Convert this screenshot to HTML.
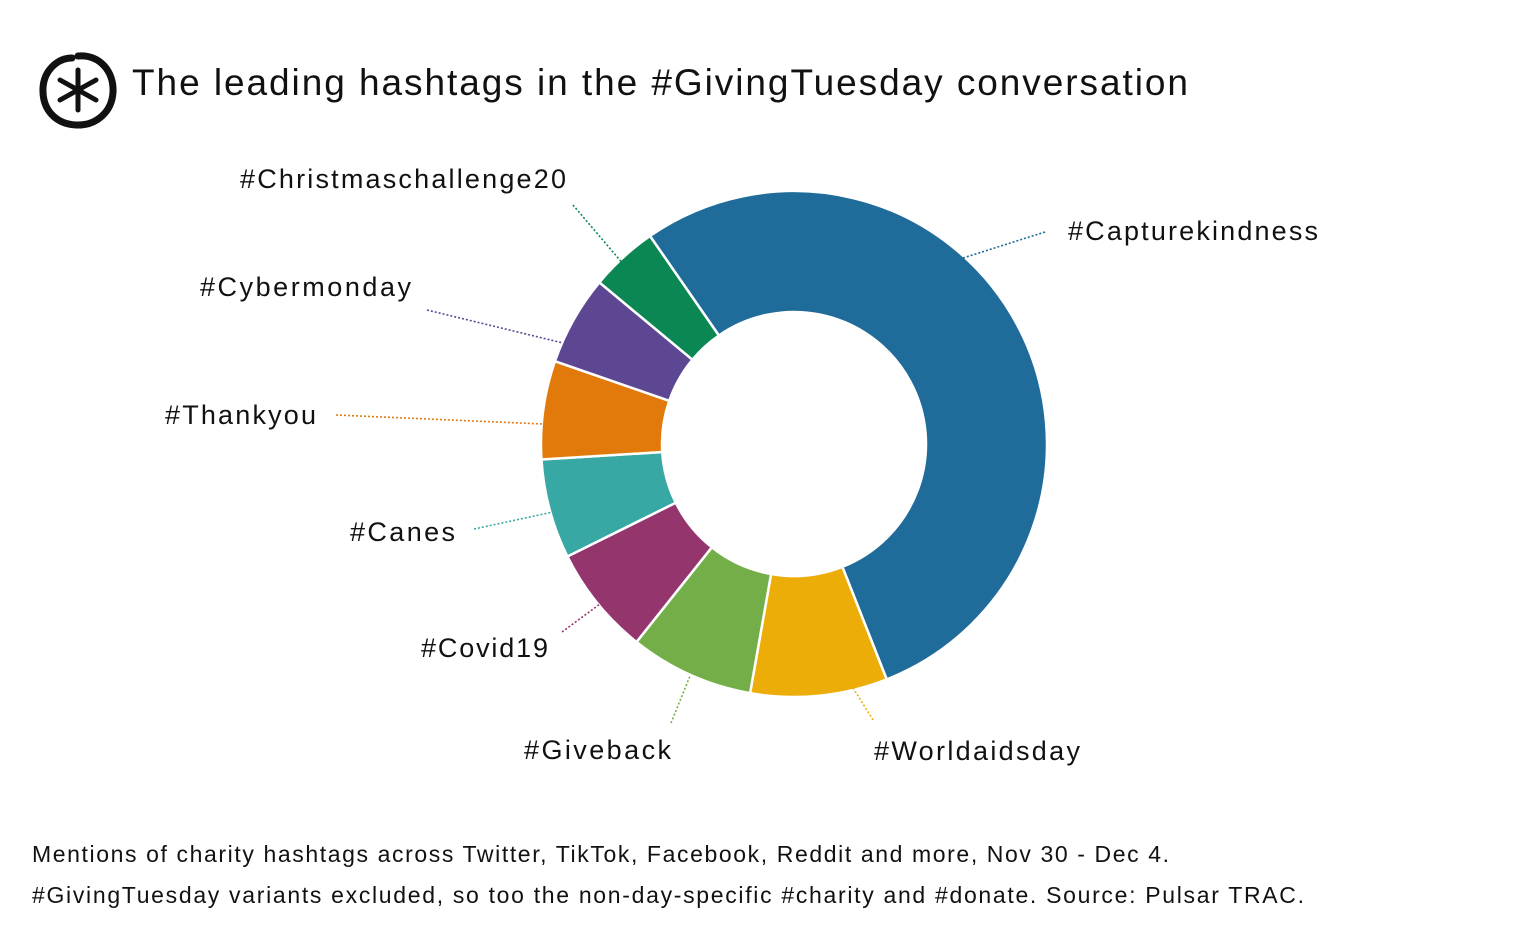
<!DOCTYPE html>
<html><head><meta charset="utf-8">
<style>
html,body{margin:0;padding:0;background:#fff;}
body{width:1536px;height:922px;overflow:hidden;position:relative;font-family:"Liberation Sans",sans-serif;}
</style></head>
<body>
<svg id="s" width="1536" height="922" viewBox="0 0 1536 922" xmlns="http://www.w3.org/2000/svg">
<g stroke="#111" fill="none" stroke-linecap="round">
<path d="M78,56 C100,54 114,72 113,92 C112,112 96,126 76,125 C56,124 42,110 43,88 C44,70 58,58 72,58" stroke-width="7"/>
<g stroke-width="5">
<line x1="78" y1="70" x2="78" y2="110"/>
<line x1="60" y1="80" x2="96" y2="100"/>
<line x1="60" y1="100" x2="96" y2="80"/>
</g>
</g>
<text x="132" y="95" font-size="37" fill="#111" textLength="1056" lengthAdjust="spacing">The leading hashtags in the #GivingTuesday conversation</text>
<g id="pie"></g>
<g font-size="27" fill="#111" lengthAdjust="spacing">
<text x="240" y="188" textLength="326">#Christmaschallenge20</text>
<text x="1068" y="240" textLength="250">#Capturekindness</text>
<text x="200" y="296" textLength="211">#Cybermonday</text>
<text x="165" y="424" textLength="151">#Thankyou</text>
<text x="350" y="541" textLength="105">#Canes</text>
<text x="421" y="657" textLength="127">#Covid19</text>
<text x="524" y="759" textLength="147">#Giveback</text>
<text x="874" y="760" textLength="206">#Worldaidsday</text>
</g>
<g stroke-width="1.6" stroke-dasharray="2,2" fill="none">
<line x1="573" y1="205" x2="630" y2="272" stroke="#0b8753"/>
<line x1="1045" y1="232" x2="963" y2="258" stroke="#1f6b99"/>
<line x1="427" y1="310" x2="563" y2="343" stroke="#5e4792"/>
<line x1="336" y1="415" x2="543" y2="424" stroke="#e17a0a"/>
<line x1="474" y1="529" x2="553" y2="512" stroke="#38a8a4"/>
<line x1="562" y1="632" x2="600" y2="604" stroke="#94356e"/>
<line x1="671" y1="723" x2="690" y2="676" stroke="#74ae49"/>
<line x1="873" y1="720" x2="850" y2="683" stroke="#ecad08"/>
</g>
<g font-size="23" fill="#111" lengthAdjust="spacing">
<text x="32" y="862" textLength="1137">Mentions of charity hashtags across Twitter, TikTok, Facebook, Reddit and more, Nov 30 - Dec 4.</text>
<text x="32" y="903" textLength="1272">#GivingTuesday variants excluded, so too the non-day-specific #charity and #donate. Source: Pulsar TRAC.</text>
</g>
</svg>
<script>
(function(){
var cx=794,cy=444,R=253,r=132;
var seg=[[325.3,518.5,"#1f6b99"],[158.5,190,"#ecad08"],[190,218.5,"#74ae49"],[218.5,243.6,"#94356e"],[243.6,266.5,"#38a8a4"],[266.5,289.1,"#e17a0a"],[289.1,309.7,"#5e4792"],[309.7,325.3,"#0b8753"]];
function p(a,rad){var t=a*Math.PI/180;return [(cx+rad*Math.sin(t)).toFixed(2),(cy-rad*Math.cos(t)).toFixed(2)];}
var g=document.getElementById("pie"),h="";
seg.forEach(function(s){var a=s[0],b=s[1],l=(b-a)>180?1:0;
var p1=p(a,R),p2=p(b,R),p3=p(b,r),p4=p(a,r);
h+='<path d="M'+p1+' A'+R+','+R+' 0 '+l+' 1 '+p2+' L'+p3+' A'+r+','+r+' 0 '+l+' 0 '+p4+' Z" fill="'+s[2]+'" stroke="#fff" stroke-width="2.5"/>';});
g.innerHTML=h;
})();
</script>
</body></html>
